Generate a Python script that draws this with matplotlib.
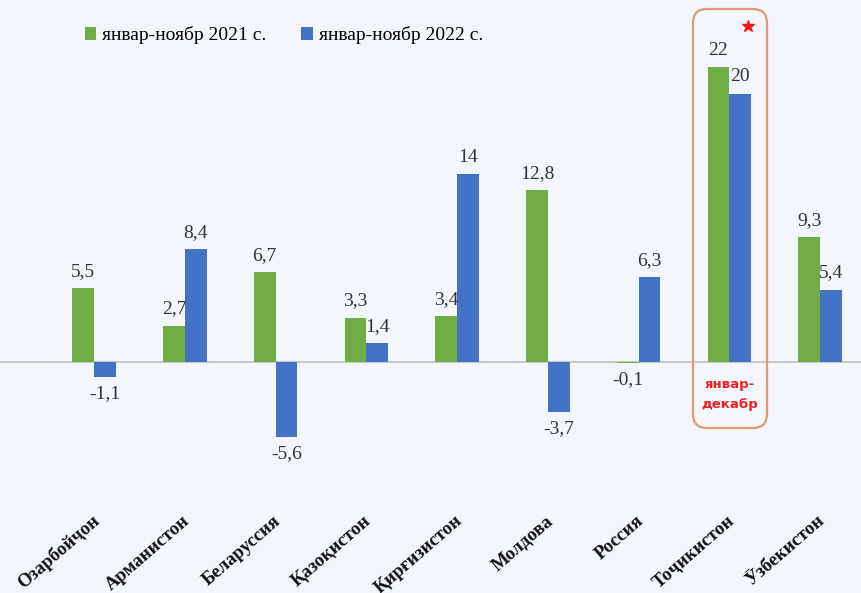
import numpy as np
import matplotlib
matplotlib.use("Agg")
from matplotlib import pyplot as plt
from matplotlib.patches import FancyBboxPatch

countries = ["Озарбойҷон", "Арманистон", "Беларуссия", "Қазоқистон", "Қирғизистон",
             "Молдова", "Россия", "Тоҷикистон", "Ӯзбекистон"]
vals_2021 = [5.5, 2.7, 6.7, 3.3, 3.4, 12.8, -0.1, 22, 9.3]
vals_2022 = [-1.1, 8.4, -5.6, 1.4, 14, -3.7, 6.3, 20, 5.4]
labels_2021 = ["5,5", "2,7", "6,7", "3,3", "3,4", "12,8", "-0,1", "22", "9,3"]
labels_2022 = ["-1,1", "8,4", "-5,6", "1,4", "14", "-3,7", "6,3", "20", "5,4"]
series_names = ["январ-ноябр 2021 с.", "январ-ноябр 2022 с."]
note_text = "январ-\nдекабр"

green = "#70ad47"
blue = "#4472c4"
bg = "#f3f6fc"
serif = ["Liberation Serif", "DejaVu Serif"]

fig = plt.figure(figsize=(8.61, 5.93), dpi=100, facecolor=bg)
ax = fig.add_axes([0, 0, 1, 1])
ax.set_facecolor(bg)

x = np.arange(len(countries))
w = 0.24
b1 = ax.bar(x - w / 2, vals_2021, w, color=green, zorder=3)
b2 = ax.bar(x + w / 2, vals_2022, w, color=blue, zorder=3)

ax.set_xlim(-1.036, 8.45)
ax.set_ylim(-17.24, 27.0)
ax.axhline(0, color="#c8c8c8", lw=1.5, zorder=2)
for s in ax.spines.values():
    s.set_visible(False)
ax.set_xticks([])
ax.set_yticks([])

# value labels
for bars, vals, labs in [(b1, vals_2021, labels_2021), (b2, vals_2022, labels_2022)]:
    for bar, v, lab in zip(bars, vals, labs):
        cx = bar.get_x() + bar.get_width() / 2
        if v >= 0:
            ax.annotate(lab, (cx, v), xytext=(0, 6), textcoords="offset points",
                        ha="center", va="bottom", fontsize=14, family=serif, color="#333333")
        else:
            ax.annotate(lab, (cx, v), xytext=(0, -6), textcoords="offset points",
                        ha="center", va="top", fontsize=14, family=serif, color="#333333")

# category labels
for xi, name in zip(x, countries):
    ax.text(xi + 0.03, -11.7, name, rotation=41, rotation_mode="anchor",
            ha="right", va="center", fontsize=13.5, fontweight="bold",
            family=serif, color="#111111")

# legend
ax.legend([b1, b2], series_names, loc="upper left", bbox_to_anchor=(0.078, 0.985),
          ncol=2, frameon=False, handlelength=0.6, handleheight=0.6,
          handletextpad=0.3, columnspacing=1.8,
          prop={"family": serif, "size": 14})

# highlighted Tajikistan box
box = FancyBboxPatch((6.93, 1.65), 0.74, 4.19, boxstyle="round,pad=0,rounding_size=0.14",
                     transform=fig.dpi_scale_trans, fill=False,
                     edgecolor="#dc9b73", lw=1.6, zorder=4)
fig.patches.append(box)
ax.text(7, -2.45, note_text, ha="center", va="center", fontsize=9.5, fontweight="bold",
        color="#f02020", family=["DejaVu Sans"], linespacing=1.7, zorder=5)
ax.plot([7.2], [25.05], marker="*", color="#ff1010", markersize=9, zorder=5)

fig.savefig("out.png", dpi=100, facecolor=bg)
